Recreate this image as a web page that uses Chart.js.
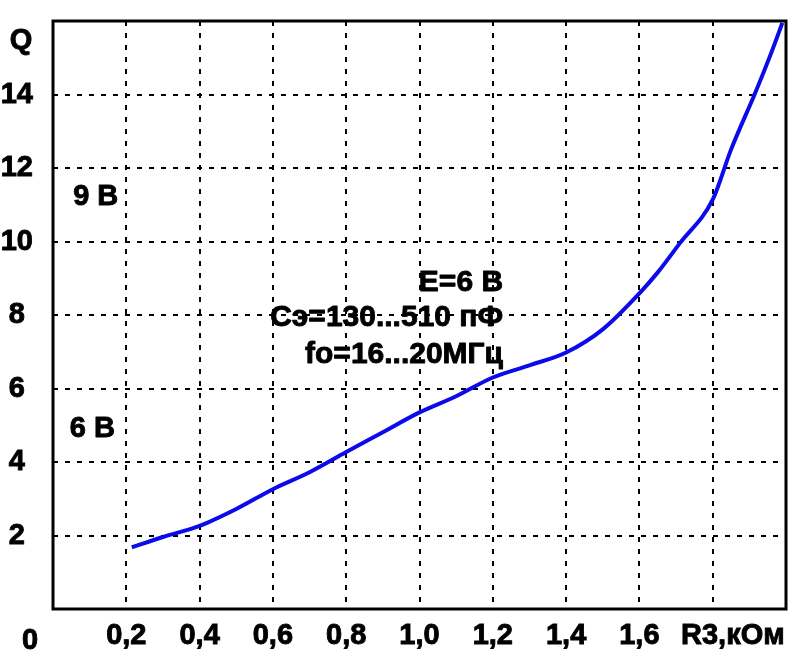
<!DOCTYPE html>
<html><head><meta charset="utf-8">
<script src="https://cdn.jsdelivr.net/npm/chart.js@4"></script>
<style>html,body{margin:0;padding:0;background:#fff;overflow:hidden}</style>
</head><body><canvas id="c" width="804" height="663"></canvas>
<script>
// ---- data ----
const rValues = [0.215, 0.3, 0.4, 0.5, 0.6, 0.7, 0.8, 0.9, 1.0, 1.1, 1.2, 1.3, 1.4, 1.5, 1.6, 1.65, 1.71, 1.8, 1.85, 1.915, 1.96, 1.99];
const qValues = [1.68, 1.96, 2.26, 2.72, 3.26, 3.72, 4.27, 4.81, 5.35, 5.79, 6.30, 6.63, 6.98, 7.61, 8.59, 9.16, 9.95, 11.14, 12.5, 14.02, 15.14, 15.95];
const xTickLabels = ['', '0,2', '0,4', '0,6', '0,8', '1,0', '1,2', '1,4', '1,6', 'R3,кОм', ''];
const yTickLabels = ['', '2', '4', '6', '8', '10', '12', '14', ''];
const yAxisName = 'Q';
const originLabel = '0';
const noteLines = ['Е=6 В', 'Сэ=130...510 пФ', 'fo=16...20МГц'];
const sideLabels = ['9 В', '6 В'];

const FONT = '"Liberation Sans", Arial, sans-serif';
const tickFont = { family: FONT, size: 29, weight: 'bold', lineHeight: 1 };

const textPlugin = {
  id: 'frameAndText',
  beforeDatasetsDraw(chart) {
    const { ctx, chartArea: a } = chart;
    ctx.save();
    ctx.lineWidth = 3;
    ctx.strokeStyle = '#000';
    ctx.strokeRect(a.left, a.top, a.right - a.left, a.bottom - a.top);
    ctx.restore();
  },
  afterDraw(chart) {
    const { ctx } = chart;
    const xs = chart.scales.x, ys = chart.scales.y;
    ctx.save();
    ctx.fillStyle = '#000';
    ctx.strokeStyle = '#000';
    ctx.lineWidth = 0.9;
    ctx.lineJoin = 'round';
    ctx.textBaseline = 'middle';
    const put = (t, x, y) => { ctx.fillText(t, x, y); ctx.strokeText(t, x, y); };
    ctx.font = 'bold 29px ' + FONT;
    // axis name Q and origin 0
    ctx.textAlign = 'center';
    put(yAxisName, 21, ys.getPixelForValue(15.45));
    put(originLabel, 30, 641);
    // side voltage labels
    ctx.textAlign = 'left';
    put(sideLabels[0], xs.getPixelForValue(0.055), ys.getPixelForValue(11.22));
    put(sideLabels[1], xs.getPixelForValue(0.046), ys.getPixelForValue(4.89));
    // note block
    ctx.font = 'bold 30px ' + FONT;
    ctx.textAlign = 'right';
    const nx = xs.getPixelForValue(1.228);
    const ny = [8.89, 7.93, 6.93];
    noteLines.forEach((t, i) => put(t, nx, ys.getPixelForValue(ny[i])));
    ctx.restore();
  }
};

new Chart(document.getElementById('c'), {
  type: 'line',
  data: {
    datasets: [{
      data: rValues.map((x, i) => ({ x, y: qValues[i] })),
      borderColor: 'rgb(10,10,235)',
      borderWidth: 4,
      pointRadius: 0,
      cubicInterpolationMode: 'monotone',
      fill: false
    }]
  },
  options: {
    responsive: false,
    animation: false,
    devicePixelRatio: 1,
    layout: { padding: { left: 0, top: 21, right: 18, bottom: 0 } },
    plugins: { legend: { display: false }, tooltip: { enabled: false } },
    scales: {
      x: {
        type: 'linear', min: 0, max: 2,
        ticks: { stepSize: 0.2, autoSkip: false, maxRotation: 0, minRotation: 0, padding: 12, color: '#000', font: tickFont,
          textStrokeColor: '#000', textStrokeWidth: 0.9,
          callback: (v, i) => (i === 9 ? '     ' : '') + xTickLabels[i] },
        grid: { color: '#000', lineWidth: 2, drawTicks: false },
        border: { display: false, dash: [5, 7] },
        afterFit: s => { s.height = 54; s.paddingLeft = 0; s.paddingRight = 0; }
      },
      y: {
        type: 'linear', min: 0, max: 16,
        ticks: { stepSize: 2, crossAlign: 'center', padding: 20, color: '#000', font: tickFont,
          textStrokeColor: '#000', textStrokeWidth: 0.9,
          callback: (v, i) => yTickLabels[i] },
        grid: { color: '#000', lineWidth: 2, drawTicks: false },
        border: { display: false, dash: [5, 7] },
        afterFit: s => { s.width = 53; s.paddingTop = 0; s.paddingBottom = 0; }
      }
    }
  },
  plugins: [textPlugin]
});
</script>
</body></html>
